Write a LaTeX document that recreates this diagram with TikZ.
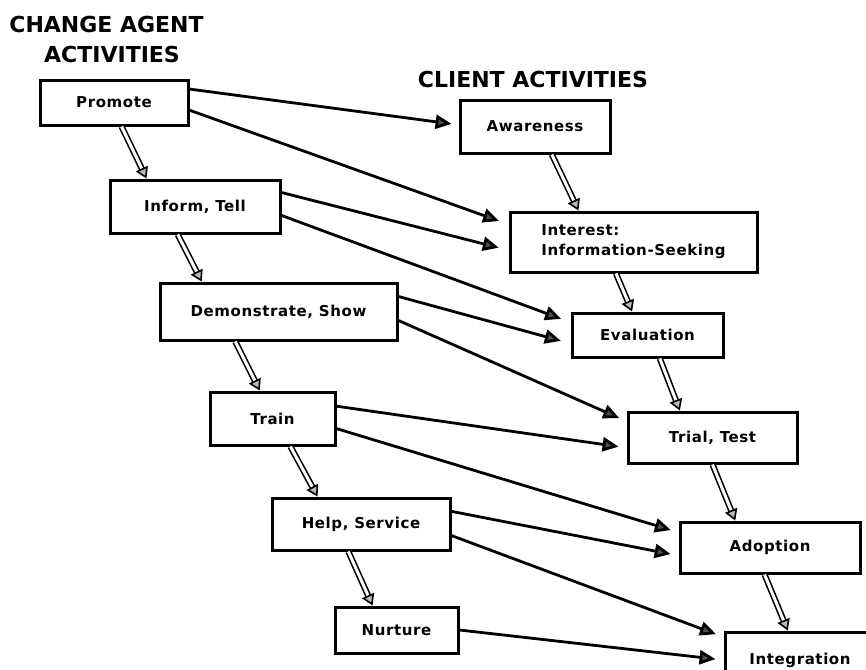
\documentclass[tikz,border=0pt]{standalone}
\usepackage{fontspec}
\usetikzlibrary{arrows.meta,calc}
\newfontfamily\boxfont[LetterSpace=4]{DejaVu Sans}
\newfontfamily\headfont{DejaVu Sans}

\begin{document}
\begin{tikzpicture}[x=1pt,y=-1pt,
  stage/.style={draw, line width=3pt, rectangle, inner sep=0pt,
    font=\boxfont\bfseries\fontsize{15}{20}\selectfont},
  heading/.style={font=\headfont\bfseries\fontsize{22}{30}\selectfont, anchor=base, inner sep=0pt},
  flow/.style={line width=2.8pt, shorten >=7pt,
    -{Triangle[length=16pt,width=14pt,fill=black!70]}},
  chain/.style={double=white, double distance=3pt, line width=1.6pt,
    -{Triangle[length=11pt,width=13pt,fill=gray!55]}}
]
\useasboundingbox (0,0) rectangle (866,669);
\clip (0,0) rectangle (866,669);

% column headings
\node[heading] (hagent1) at (106.5,33) {CHANGE AGENT};
\node[heading] (hagent2) at (112,63) {ACTIVITIES};
\node[heading] (hclient) at (533,87) {CLIENT ACTIVITIES};

% change agent activities
\node[stage, minimum width=148pt, minimum height=45pt] (promote) at (114,102.5) {Promote};
\node[stage, minimum width=170pt, minimum height=53pt] (inform)  at (195,206.5) {Inform, Tell};
\node[stage, minimum width=237pt, minimum height=57pt] (demo)    at (278.5,311.5) {Demonstrate, Show};
\node[stage, minimum width=125pt, minimum height=53pt] (train)   at (272.5,418.5) {Train};
\node[stage, minimum width=178pt, minimum height=52pt] (help)    at (361,524) {Help, Service};
\node[stage, minimum width=123pt, minimum height=46pt] (nurture) at (396.5,630) {Nurture};

% client activities
\node[stage, minimum width=150pt, minimum height=53pt] (aware)    at (535,126.5) {Awareness};
\node[stage, minimum width=247pt, minimum height=60pt, align=left] (interest) at (633.5,242)
  {Interest:\\Information-Seeking};
\node[stage, minimum width=151pt, minimum height=44pt] (eval)     at (647.5,335) {Evaluation};
\node[stage, minimum width=169pt, minimum height=51pt] (trial)    at (712.5,437.5) {Trial, Test};
\node[stage, minimum width=180pt, minimum height=51pt] (adopt)    at (770,547.5) {Adoption};
\node[stage, minimum width=150pt, minimum height=56pt] (integ)    at (800,660) {Integration};

% sequence within each column
\draw[chain] ($(promote.south west)!0.55!(promote.south east)$) -- ($(inform.north west)!0.22!(inform.north east)$);
\draw[chain] ($(inform.south west)!0.40!(inform.south east)$) -- ($(demo.north west)!0.18!(demo.north east)$);
\draw[chain] ($(demo.south west)!0.32!(demo.south east)$) -- ($(train.north west)!0.40!(train.north east)$);
\draw[chain] ($(train.south west)!0.64!(train.south east)$) -- ($(help.north west)!0.26!(help.north east)$);
\draw[chain] ($(help.south west)!0.43!(help.south east)$) -- ($(nurture.north west)!0.31!(nurture.north east)$);

\draw[chain] ($(aware.south west)!0.61!(aware.south east)$) -- ($(interest.north west)!0.28!(interest.north east)$);
\draw[chain] ($(interest.south west)!0.43!(interest.south east)$) -- ($(eval.north west)!0.40!(eval.north east)$);
\draw[chain] ($(eval.south west)!0.58!(eval.south east)$) -- ($(trial.north west)!0.31!(trial.north east)$);
\draw[chain] ($(trial.south west)!0.50!(trial.south east)$) -- ($(adopt.north west)!0.31!(adopt.north east)$);
\draw[chain] ($(adopt.south west)!0.47!(adopt.south east)$) -- ($(integ.north west)!0.42!(integ.north east)$);

% each agent activity feeds two client stages
\draw[flow] ($(promote.north east)!0.22!(promote.south east)$) -- ($(aware.north west)!0.47!(aware.south west)$);
\draw[flow, shorten >=10pt] ($(promote.north east)!0.66!(promote.south east)$) -- ($(interest.north west)!0.22!(interest.south west)$);
\draw[flow, shorten >=10pt] ($(inform.north east)!0.25!(inform.south east)$) -- ($(interest.north west)!0.63!(interest.south west)$);
\draw[flow, shorten >=10pt] ($(inform.north east)!0.66!(inform.south east)$) -- ($(eval.north west)!0.23!(eval.south west)$);
\draw[flow, shorten >=10pt] ($(demo.north east)!0.25!(demo.south east)$) -- ($(eval.north west)!0.68!(eval.south west)$);
\draw[flow, shorten >=8pt] ($(demo.north east)!0.65!(demo.south east)$) -- ($(trial.north west)!0.20!(trial.south west)$);
\draw[flow, shorten >=8pt] ($(train.north east)!0.28!(train.south east)$) -- ($(trial.north west)!0.69!(trial.south west)$);
\draw[flow, shorten >=8pt] ($(train.north east)!0.68!(train.south east)$) -- ($(adopt.north west)!0.22!(adopt.south west)$);
\draw[flow, shorten >=8pt] ($(help.north east)!0.27!(help.south east)$) -- ($(adopt.north west)!0.65!(adopt.south west)$);
\draw[flow, shorten >=8pt] ($(help.north east)!0.71!(help.south east)$) -- ($(integ.north west)!0.11!(integ.south west)$);
\draw[flow, shorten >=8pt] ($(nurture.north east)!0.50!(nurture.south east)$) -- ($(integ.north west)!0.50!(integ.south west)$);
\end{tikzpicture}
\end{document}
